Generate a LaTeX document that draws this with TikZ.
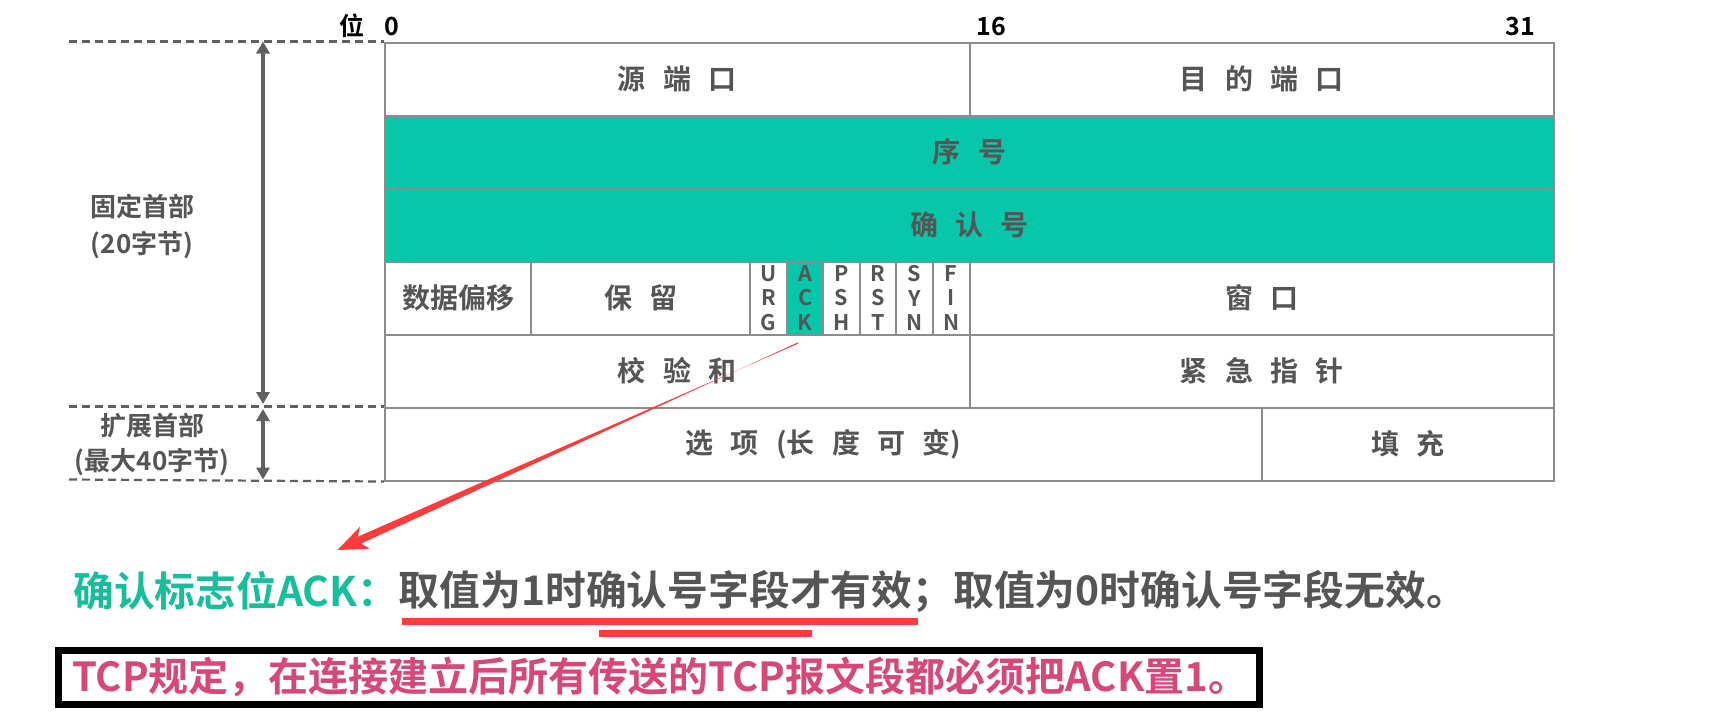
\documentclass[tikz,border=0pt]{standalone}
\usepackage{fontspec}
\setmainfont{Noto Sans CJK SC}[BoldFont={* Bold}]
\usetikzlibrary{arrows.meta,calc}
\definecolor{tealc}{RGB}{8,198,170}
\definecolor{tealt}{RGB}{22,190,155}
\definecolor{txtc}{RGB}{85,85,85}
\definecolor{linec}{RGB}{140,140,140}
\definecolor{arrc}{RGB}{96,96,96}
\definecolor{redc}{RGB}{255,59,59}
\definecolor{pinkc}{RGB}{214,72,122}
\newcommand{\gp}{\hspace{0.62em}}
\begin{document}
\begin{tikzpicture}[x=1pt,y=-1pt,font=\bfseries,
  cell/.style={draw=linec,line width=2pt,inner sep=0pt,minimum height=73pt,
    anchor=north west,text=txtc,font=\bfseries\fontsize{28}{32}\selectfont},
  flagc/.style={cell,minimum width=36.53pt,align=center,
    font=\bfseries\fontsize{21.5}{24.5}\selectfont},
  toplab/.style={inner sep=0pt,text=black,font=\bfseries\fontsize{25}{28}\selectfont},
  sidelab/.style={inner sep=0pt,align=center,text=txtc},
  dashln/.style={draw=arrc,line width=2.2pt,dash pattern=on 8pt off 5pt},
  garrow/.style={draw=arrc,line width=4pt,
    {Triangle[length=12pt,width=13pt]}-{Triangle[length=12pt,width=13pt]}}]
\useasboundingbox[fill=white] (0,0) rectangle (1711,720);

% bit labels
\node[toplab] (wei) at (352,26) {位};
\node[toplab] (b0) at (392,26) {0};
\node[toplab] (b16) at (991,26) {16};
\node[toplab] (b31) at (1520,26) {31};

% table
\node[cell,minimum width=584.5pt] (src) at (384,41.5) {源\gp 端\gp 口};
\node[cell,minimum width=584.5pt] (dst) at (968.5,41.5) {目\gp 的\gp 端\gp 口};
\node[cell,fill=tealc,minimum width=1169pt] (seq) at (384,114.5) {序\gp 号};
\node[cell,fill=tealc,minimum width=1169pt] (ackn) at (384,187.5) {确\gp 认\gp 号};
\node[cell,minimum width=146.1pt] (off) at (384,260.5) {数据偏移};
\node[cell,minimum width=219.2pt] (res) at (530.1,260.5) {保\gp 留};
\node[flagc] (urg) at (749.3,260.5) {U\\R\\G};
\node[flagc,fill=tealc] (ack) at (785.8,260.5) {A\\C\\K};
\node[flagc] (psh) at (822.4,260.5) {P\\S\\H};
\node[flagc] (rst) at (858.9,260.5) {R\\S\\T};
\node[flagc] (syn) at (895.4,260.5) {S\\Y\\N};
\node[flagc] (fin) at (932.0,260.5) {F\\I\\N};
\node[cell,minimum width=584.5pt] (win) at (968.5,260.5) {窗\gp 口};
\node[cell,minimum width=584.5pt] (chk) at (384,333.5) {校\gp 验\gp 和};
\node[cell,minimum width=584.5pt] (urgp) at (968.5,333.5) {紧\gp 急\gp 指\gp 针};
\node[cell,minimum width=876.7pt] (opt) at (384,406.5) {选\gp 项\gp (长\gp 度\gp 可\gp 变)};
\node[cell,minimum width=292.3pt] (pad) at (1260.7,406.5) {填\gp 充};

% left side
\coordinate (d0) at (69,41.5);
\coordinate (d1) at (69,406.5);
\coordinate (d2) at (69,479.5);
\draw[dashln] (d0) -- (src.north west);
\draw[dashln] (d1) -- (opt.north west);
\draw[dashln] (d2) -- (opt.south west);
\coordinate (a0) at (263,41.5);
\coordinate (a1) at (263,406.5);
\coordinate (a2) at (263,479.5);
\draw[garrow,shorten >=2.5pt] (a0) -- (a1);
\draw[garrow,shorten <=2.5pt] (a1) -- (a2);
\node[sidelab,font=\bfseries\fontsize{26}{37}\selectfont] (fixed) at (142,226) {固定首部\\(20字节)};
\node[sidelab,font=\bfseries\fontsize{26}{35}\selectfont] (ext) at (152,444.5) {扩展首部\\(最大40字节)};

% red arrow
\coordinate (ra) at (798,343);
\coordinate (rb) at (337.5,550);
\coordinate (hb) at ($(rb)!30pt!(ra)$);
\coordinate (hs) at ($(rb)!24pt!(ra)$);
\fill[redc] ($(ra)!0.6pt!90:(rb)$) -- ($(hs)!3.8pt!-90:(rb)$) -- ($(hb)!12pt!-90:(rb)$)
  -- (rb) -- ($(hb)!12pt!90:(rb)$) -- ($(hs)!3.8pt!90:(rb)$) -- ($(ra)!0.6pt!-90:(rb)$) -- cycle;

% bottom explanation
\node[anchor=west,inner sep=0pt,text=tealt,font=\bfseries\fontsize{40.8}{44}\selectfont] (acklab) at (73,591) {确认标志位ACK：};
\node[anchor=west,inner sep=0pt,text=txtc,font=\bfseries\fontsize{40.8}{44}\selectfont] (acktxt) at (acklab.east) {取值为1时确认号字段才有效；取值为0时确认号字段无效。};
\fill[redc] (402,618) rectangle (918,625);
\fill[redc] (599,630) rectangle (812,637);

% rule box
\draw[black,line width=7pt] (58.5,650.5) rectangle (1259.5,704.5);
\node[anchor=west,inner sep=0pt,text=pinkc,font=\bfseries\fontsize{40}{44}\selectfont] (rule) at (72,677) {TCP规定，在连接建立后所有传送的TCP报文段都必须把ACK置1。};
\end{tikzpicture}
\end{document}
